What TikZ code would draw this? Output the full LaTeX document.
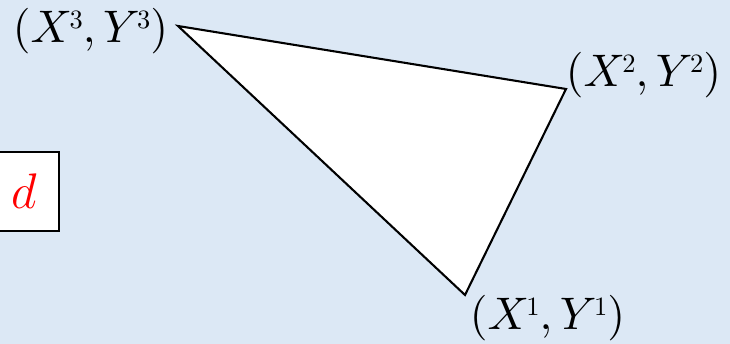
\documentclass[tikz,border=0pt]{standalone}
\newcommand\tinysup[1]{\kern-0.6pt\raisebox{3.4pt}{\scalebox{0.58}{$#1$}}}
\begin{document}
\begin{tikzpicture}[x=0.24pt,y=-0.24pt,
  lbl/.style={inner sep=0pt, font=\fontsize{11}{13}\selectfont},
  dbox/.style={draw, fill=white, line width=0.6pt, minimum width=70*0.24pt, minimum height=79*0.24pt, inner sep=0pt, text=red, font=\fontsize{11.8}{13}\selectfont}]
\definecolor{bg}{RGB}{220,232,245}
\fill[bg] (0,0) rectangle (730,344);
\useasboundingbox (0,0) rectangle (730,344);
\coordinate (p1) at (465,295);
\coordinate (p2) at (566,89);
\coordinate (p3) at (178,26);
\draw[fill=white, line width=0.5pt, line join=miter] (p1) -- (p2) -- (p3) -- cycle;
\node[lbl, anchor=east] (l3) at (169,31) {$(X\tinysup{3},Y\tinysup{3})$};
\node[lbl, anchor=west] (l2) at (565,75) {$(X\tinysup{2},Y\tinysup{2})$};
\node[lbl, anchor=west] (l1) at (469,318) {$(X\tinysup{1},Y\tinysup{1})$};
\node[dbox] (d) at (24,191.5) {$d$};
\end{tikzpicture}
\end{document}
